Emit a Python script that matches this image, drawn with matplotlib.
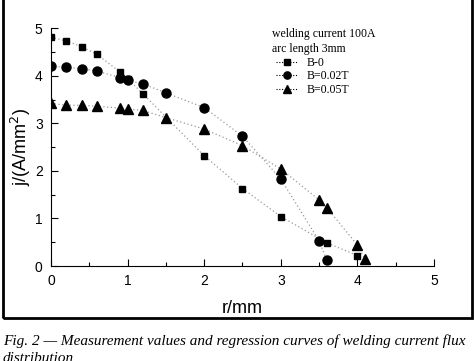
import matplotlib
matplotlib.use("Agg")
import matplotlib.pyplot as plt
from matplotlib.patches import Rectangle
from matplotlib.lines import Line2D
from matplotlib.ticker import MultipleLocator

# B = 0
r_b0 = [0, 0.2, 0.4, 0.6, 0.9, 1.0, 1.2, 2.0, 2.5, 3.0, 3.6, 4.0]
j_b0 = [4.81, 4.73, 4.61, 4.45, 4.08, 3.94, 3.62, 2.32, 1.63, 1.04, 0.49, 0.22]
# B = 0.02T
r_b002 = [0, 0.2, 0.4, 0.6, 0.9, 1.0, 1.2, 1.5, 2.0, 2.5, 3.0, 3.5, 3.6]
j_b002 = [4.20, 4.18, 4.15, 4.10, 3.96, 3.90, 3.83, 3.64, 3.33, 2.73, 1.83, 0.53, 0.13]
# B = 0.05T
r_b005 = [0, 0.2, 0.4, 0.6, 0.9, 1.0, 1.2, 1.5, 2.0, 2.5, 3.0, 3.5, 3.6, 4.0, 4.1]
j_b005 = [3.42, 3.38, 3.38, 3.36, 3.32, 3.30, 3.27, 3.12, 2.88, 2.53, 2.04, 1.39, 1.23, 0.44, 0.14]

labels = ["B-0", "B=0.02T", "B=0.05T"]
markers = ["s", "o", "^"]
msizes = [5, 6.5, 6.5]

fig = plt.figure(figsize=(4.74, 3.61), dpi=100)
ax = fig.add_axes([0.1076, 0.263, 0.808, 0.659])

series = [(r_b0, j_b0), (r_b002, j_b002), (r_b005, j_b005)]
for (r, j), m, ms in zip(series, markers, msizes):
    ax.plot(r, j, color="#999999", linestyle=(0, (1, 2)), linewidth=0.9, zorder=1)
    ax.plot(r, j, linestyle="none", marker=m, markersize=ms, color="black", zorder=2)

ax.set_xlim(0, 5)
ax.set_ylim(0, 5)
ax.xaxis.set_major_locator(MultipleLocator(1))
ax.xaxis.set_minor_locator(MultipleLocator(0.5))
ax.yaxis.set_major_locator(MultipleLocator(1))
ax.yaxis.set_minor_locator(MultipleLocator(0.5))
ax.spines["top"].set_visible(False)
ax.spines["right"].set_visible(False)
ax.tick_params(which="both", direction="in", width=0.8)
ax.tick_params(which="major", length=5, labelsize=10, pad=6)
ax.tick_params(which="minor", length=3)
for lab in ax.get_xticklabels() + ax.get_yticklabels():
    lab.set_fontfamily("Liberation Sans")
ax.set_xlabel("r/mm", fontsize=13, family="Liberation Sans", labelpad=8)
ax.set_ylabel("j/(A/mm$^2$)", fontsize=13, family="Liberation Sans", labelpad=1)

# legend block
fig.text(0.574, 0.898, "welding current 100A", fontsize=8.5, family="Liberation Serif")
fig.text(0.574, 0.856, "arc length 3mm", fontsize=8.5, family="Liberation Serif")
handles = [Line2D([0], [0], color="black", marker=m, markersize=ms * 0.8, linestyle=(0, (1, 1.5)), linewidth=0.8)
           for m, ms in zip(markers, msizes)]
ax.legend(handles, labels, loc="upper left", bbox_to_anchor=(0.575, 0.9), frameon=False,
          prop={"family": "Liberation Serif", "size": 8.5}, handlelength=1.8,
          labelspacing=0.15, handletextpad=0.8, borderaxespad=0)

# surrounding frame
fig.patches.append(Rectangle((3 / 474, 43 / 361), 469 / 474, 1.2, transform=fig.transFigure,
                             fill=False, edgecolor="black", linewidth=2))

fig.text(0.006, 0.045, "Fig. 2 \u2014 Measurement values and regression curves of welding current flux",
         fontsize=11, style="italic", family="Liberation Serif")
fig.text(0.006, -0.004, "distribution", fontsize=11, style="italic", family="Liberation Serif")

fig.savefig("out.png", dpi=100)
